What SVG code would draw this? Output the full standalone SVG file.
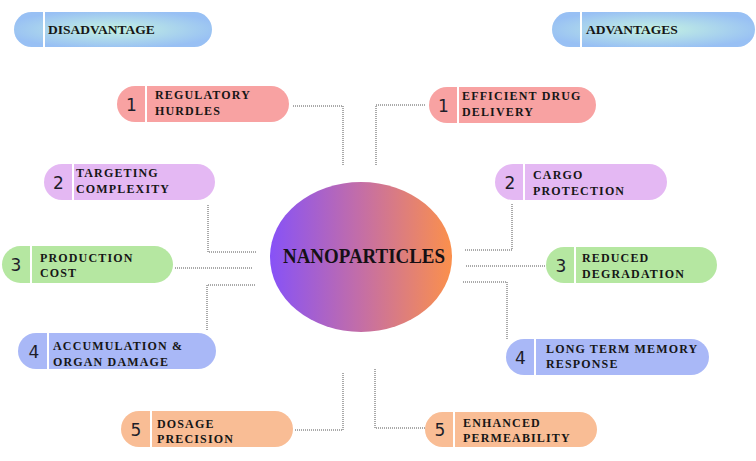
<svg xmlns="http://www.w3.org/2000/svg" width="756" height="461" viewBox="0 0 756 461">
<defs>
<radialGradient id="hdr" cx="50%" cy="50%" r="55%">
<stop offset="0" stop-color="#c4f2e2"/>
<stop offset="1" stop-color="#98c0f4"/>
</radialGradient>
<linearGradient id="core" x1="0" y1="0" x2="1" y2="0">
<stop offset="0" stop-color="#8752f7"/>
<stop offset="0.5" stop-color="#c46ea6"/>
<stop offset="1" stop-color="#fb904c"/>
</linearGradient>
<style>
.red{fill:#f8a2a2}.pur{fill:#e4b8f3}.grn{fill:#b5e7a1}.blu{fill:#a9b8f7}.org{fill:#f9bd95}
.div{stroke:#ffffff;stroke-width:2}
.num{font-family:"DejaVu Sans",sans-serif;font-size:17px;fill:#1e1e2a;text-anchor:middle}
.lbl{font-family:"Liberation Serif",serif;font-weight:bold;font-size:12px;letter-spacing:1.15px;fill:#161616}
.hd{font-family:"Liberation Serif",serif;font-weight:bold;font-size:13.5px;fill:#161616}
.con{fill:none;stroke:#555;stroke-width:1;stroke-dasharray:1 1}
</style>
</defs>
<rect width="756" height="461" fill="#ffffff"/>

<g id="hdr-disadvantage">
<rect x="14" y="12" width="198" height="35" rx="17.5" fill="url(#hdr)"/>
<line class="div" x1="44" y1="12" x2="44" y2="47"/>
<text class="hd" x="48" y="34">DISADVANTAGE</text>
</g>
<g id="hdr-advantages">
<rect x="552" y="12" width="203" height="35" rx="17.5" fill="url(#hdr)"/>
<line class="div" x1="581" y1="12" x2="581" y2="47"/>
<text class="hd" x="586" y="34">ADVANTAGES</text>
</g>

<g id="connectors">
<polyline class="con" points="293,106 343,106 343,166"/>
<polyline class="con" points="425,105 376,105 376,165"/>
<polyline class="con" points="208,205 208,252 256,252"/>
<polyline class="con" points="175,268 252,268"/>
<polyline class="con" points="255,285 207,285 207,330"/>
<polyline class="con" points="295,430 343,430 343,372"/>
<polyline class="con" points="375,369 375,428 425,428"/>
<polyline class="con" points="512,204 512,250 464,250"/>
<polyline class="con" points="466,266 546,266"/>
<polyline class="con" points="463,282 507,282 507,340"/>
</g>

<g id="center">
<ellipse cx="361" cy="257" rx="91" ry="75" fill="url(#core)"/>
<text x="364" y="263" text-anchor="middle" font-family="Liberation Serif, serif" font-weight="bold" font-size="22" textLength="162" lengthAdjust="spacingAndGlyphs" fill="#151015">NANOPARTICLES</text>
</g>

<g id="l1">
<rect class="red" x="117" y="86" width="172" height="36" rx="18"/>
<line class="div" x1="146" y1="86" x2="146" y2="122"/>
<text class="num" x="131.5" y="111">1</text>
<text class="lbl" x="155" y="99">REGULATORY</text>
<text class="lbl" x="155" y="115">HURDLES</text>
</g>
<g id="l2">
<rect class="pur" x="44" y="164" width="171" height="36" rx="18"/>
<line class="div" x1="73" y1="164" x2="73" y2="200"/>
<text class="num" x="58.5" y="189">2</text>
<text class="lbl" x="76" y="177">TARGETING</text>
<text class="lbl" x="76" y="193">COMPLEXITY</text>
</g>
<g id="l3">
<rect class="grn" x="2" y="246" width="171" height="37" rx="18.5"/>
<line class="div" x1="31" y1="246" x2="31" y2="283"/>
<text class="num" x="16" y="271">3</text>
<text class="lbl" x="40" y="262">PRODUCTION</text>
<text class="lbl" x="40" y="277">COST</text>
</g>
<g id="l4">
<rect class="blu" x="18" y="333" width="198" height="36" rx="18"/>
<line class="div" x1="48" y1="333" x2="48" y2="369"/>
<text class="num" x="34" y="358">4</text>
<text class="lbl" x="53" y="350">ACCUMULATION &amp;</text>
<text class="lbl" x="53" y="366">ORGAN DAMAGE</text>
</g>
<g id="l5">
<rect class="org" x="121" y="411" width="172" height="36" rx="18"/>
<line class="div" x1="151" y1="411" x2="151" y2="447"/>
<text class="num" x="136" y="436">5</text>
<text class="lbl" x="157" y="428">DOSAGE</text>
<text class="lbl" x="157" y="443">PRECISION</text>
</g>

<g id="r1">
<rect class="red" x="429" y="87" width="167" height="36" rx="18"/>
<line class="div" x1="458" y1="87" x2="458" y2="123"/>
<text class="num" x="443.5" y="112">1</text>
<text class="lbl" x="462" y="100">EFFICIENT DRUG</text>
<text class="lbl" x="462" y="116">DELIVERY</text>
</g>
<g id="r2">
<rect class="pur" x="495" y="164" width="172" height="36" rx="18"/>
<line class="div" x1="524" y1="164" x2="524" y2="200"/>
<text class="num" x="510" y="189">2</text>
<text class="lbl" x="533" y="179">CARGO</text>
<text class="lbl" x="533" y="195">PROTECTION</text>
</g>
<g id="r3">
<rect class="grn" x="546" y="247" width="171" height="36" rx="18"/>
<line class="div" x1="575" y1="247" x2="575" y2="283"/>
<text class="num" x="561" y="272">3</text>
<text class="lbl" x="582" y="262">REDUCED</text>
<text class="lbl" x="582" y="278">DEGRADATION</text>
</g>
<g id="r4">
<rect class="blu" x="506" y="339" width="203" height="36" rx="18"/>
<line class="div" x1="535" y1="339" x2="535" y2="375"/>
<text class="num" x="520.5" y="364">4</text>
<text class="lbl" x="546" y="353">LONG TERM MEMORY</text>
<text class="lbl" x="546" y="368">RESPONSE</text>
</g>
<g id="r5">
<rect class="org" x="425" y="412" width="172" height="35" rx="17.5"/>
<line class="div" x1="454" y1="412" x2="454" y2="447"/>
<text class="num" x="440" y="436">5</text>
<text class="lbl" x="463" y="427">ENHANCED</text>
<text class="lbl" x="463" y="442">PERMEABILITY</text>
</g>
</svg>
